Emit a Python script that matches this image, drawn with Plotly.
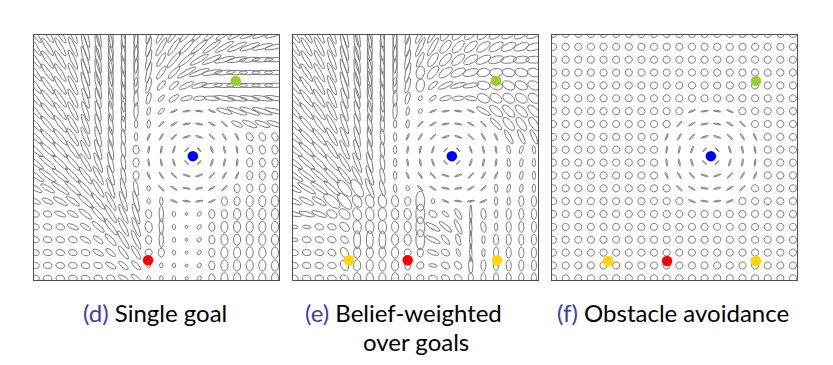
import re
import numpy as np
import plotly.graph_objects as go

# ---------------- data ----------------
# grid: 20 x 20 cells, column index left->right, row index top->bottom
GRID_COLS = list(range(20))
GRID_ROWS = list(range(20))

# each token = orientation of the major axis in degrees (0 = horizontal, 90 = vertical,
# 45 = "/", 135 = "\") followed by a glyph-shape letter
FIELD_D = [
    "125L 123L 120L 113L 105X 100X 95X 92X 88X 80L 62L 55L 50L 45L 40L 35L 30L 25L 22L 20L",
    "125L 123L 120L 113L 105X 100X 95X 92X 88X 78L 60L 55L 45L 40L 35L 30L 25L 20L 15L 12L",
    "126L 124L 121L 114L 106X 100X 95X 92X 88X 77L 58l 50L 40L 30L 25L 15L 10L 6L 4L 2L",
    "127L 125L 122L 115L 106X 100X 95X 92X 88X 76L 55l 45l 30L 20L 10L 5L 0L 0L 0L 0L",
    "128L 126L 123L 116L 107X 101X 95X 92X 88l 75l 50m 40m 25l 15l 5L 0L 0L 0L 0L 0L",
    "130L 128L 124L 117L 108L 102L 96L 92X 88l 75m 45n 35m 15m 5m 175l 170L 170L 170L 170L 170L",
    "131L 129L 125L 118L 109L 102L 96L 93L 88l 75n 40n 23d 8d 172d 157d 163l 160L 160L 162L 165L",
    "133L 131L 127L 120L 111L 104L 97L 94l 90n 85n 45d 31d 11d 169d 149d 135d 155m 155l 158l 160l",
    "136L 134L 129L 122L 113L 105L 98L 95l 90n 67d 59d 45d 18d 162d 135d 121d 113d 125e 118e 112e",
    "139L 137L 132L 125L 116L 107L 100L 96l 90e 82d 79d 72d 45i 135i 108d 101d 98d 105e 102e 100e",
    "142L 140L 136L 130L 122L 112L 104L 97l 90e 98d 101d 108d 135i 45i 72d 79d 82d 95e 95e 95e",
    "145L 143L 140L 134L 127L 118L 107L 100l 90e 113d 121d 135d 162d 18d 45d 59d 67d 90e 90e 90e",
    "150l 148l 145L 138L 132L 122L 110L 103L 100l 95t 135d 149d 169d 11d 31d 45d 90e 90e 90e 90e",
    "155m 155m 150l 145l 138L 128L 118L 110L 105L 90t 90n 157d 172d 8d 23d 90e 90e 90E 90E 90E",
    "160e 160e 158m 150m 142l 132L 122L 114L 108L 100e 90l 90t 0s 45t 90e 90e 90E 90E 90E 90E",
    "165e 165e 162e 155m 148m 138l 128L 118L 112L 100E 90l 90t 0s 45t 90e 90E 90E 90E 90E 90E",
    "167e 167e 165e 160e 152m 142m 132l 122L 115L 95e 90l 90t 0s 45t 90e 90E 90E 90E 90E 90E",
    "170e 170e 168e 165e 160e 150m 140m 128l 122l 90o 90e 90t 0s 45t 90e 90E 90E 90E 90E 90E",
    "175e 175e 172e 170e 165e 160e 150m 140m 135m 90t 90t 90t 0s 45t 90e 90E 90E 90E 90E 90E",
    "178e 178e 175e 172e 170e 165e 158e 150m 140m 90t 90t 90t 0s 45t 90e 90E 90E 90E 90E 90E",
]

FIELD_E = [
    "123L 120L 117L 112L 105X 100X 95X 92X 88X 80L 65L 60L 55G 45G 40G 40G 35G 30G 30G 25G",
    "123L 120L 117L 112L 105X 100X 95X 92X 88X 80L 65L 60L 50G 45G 40G 35G 30G 25G 20G 15G",
    "124L 121L 118L 112L 105X 100X 95X 92X 88X 78L 65l 55G 45G 40G 30G 25G 15G 10G 5G 0G",
    "126L 123L 119L 113L 106X 100X 95X 92X 88X 77L 80F 50G 35G 25G 15G 10F 5F 170F 165F 165F",
    "128L 125L 120L 114L 106X 100X 95X 92X 88l 76l 80F 40m 25l 15l 10l 170F 160F 155F 155F 155F",
    "130L 127L 122L 115L 107L 101L 96X 92X 88l 75m 60t 40n 15m 5m 170m 155F 150F 145F 145F 145F",
    "132L 129L 124L 117L 108L 102L 96L 92L 88l 80n 45t 23d 8d 172d 157d 150l 140G 135G 135G 135G",
    "134L 131L 126L 119L 110L 103L 97L 92l 90n 85n 45d 31d 11d 169d 149d 135d 135l 130G 125G 125G",
    "137L 134L 128L 121L 112L 104L 98L 93l 90n 67d 59d 45d 18d 162d 135d 121d 113d 120l 115l 115l",
    "140L 137L 131L 124L 115L 106L 99L 94l 90n 82d 79d 72d 45i 135i 108d 101d 98d 105n 70n 100n",
    "143L 140L 135L 130L 122L 112L 104L 97l 90n 98d 101d 108d 135i 45i 72d 79d 82d 95n 80n 90n",
    "147L 144L 140L 134L 127L 118L 108L 100l 90n 113d 121d 135d 162d 18d 45d 59d 67d 90n 80n 90n",
    "150l 148L 144L 138L 130B 122B 112L 105l 95n 90t 135d 149d 169d 11d 31d 45d 90n 75n 80n 90n",
    "155l 152l 150l 140B 130B 120F 105F 100F 95E 90e 90B 90t 157d 172d 8d 23d 90n 90n 90v 90v",
    "168l 165l 160l 150E 140F 110F 100F 95F 95E 100E 90B 150e 140n 120m 90T 95v 90n 90v 90v 90v",
    "175n 172n 165e 160e 140E 95F 95F 95F 95E 95E 90B 150l 140l 115l 90T 100v 90n 90v 90v 90v",
    "175n 170e 160e 160e 140e 90W 90W 90W 95E 95E 90B 155l 130m 105m 90T 90n 90v 90v 90v 90v",
    "170e 170e 170e 150e 120E 90E 90E 90E 90E 90o 90e 160m 150e 110n 90T 90n 90v 90v 90v 90v",
    "170e 170e 170e 170e 120E 90E 90E 90E 90E 90e 90o 170n 150e 130e 90l 90v 90v 90v 90v 90v",
    "170e 170e 170e 170e 150e 90E 90E 90E 90E 90e 90o 170e 150e 130e 90v 90v 90v 90v 90v 90v",
]

FIELD_F = [
    "o o o o o o o o o o o o o o o o o o o o",
    "o o o o o o o o o o o o o o o o o o o o",
    "o o o o o o o o o o o o o o o o o o o o",
    "o o o o o o o o o o o o o o o o o o o o",
    "o o o o o o o o o o o o o o o o o o o o",
    "o o o o o o o o o o o o o o o o o o o o",
    "o o o o o o o o o o o 23d 8d 172d 157d o o o o o",
    "o o o o o o o o o o 45d 31d 11d 169d 149d 135d o o o o",
    "o o o o o o o o o 67d 59d 45d 18d 162d 135d 121d 113d o o o",
    "o o o o o o o o o 82d 79d 72d 45i 135i 108d 101d 98d o o o",
    "o o o o o o o o o 98d 101d 108d 135i 45i 72d 79d 82d o o o",
    "o o o o o o o o o 113d 121d 135d 162d 18d 45d 59d 67d o o o",
    "o o o o o o o o o o 135d 149d 169d 11d 31d 45d o o o o",
    "o o o o o o o o o o o 157d 172d 8d 23d o o o o o",
    "o o o o o o o o o o o o o o o o o o o o",
    "o o o o o o o o o o o o o o o o o o o o",
    "o o o o o o o o o o o o o o o o o o o o",
    "o o o o o o o o o o o o o o o o o o o o",
    "o o o o o o o o o o o o o o o o o o o o",
    "o o o o o o o o o o o o o o o o o o o o",
]

OBSTACLE = (12.5, 9.5)
GOALS_D = [(8.95, 17.6, "red"), (15.9, 3.65, "green")]
GOALS_E = [(9.0, 17.6, "red"), (4.35, 17.6, "yellow"), (16.07, 17.6, "yellow"), (16.0, 3.65, "green")]
GOALS_F = [(9.03, 17.65, "red"), (4.35, 17.65, "yellow"), (16.07, 17.65, "yellow"), (16.07, 3.65, "green")]

CAPTION_LABELS = ["(d)", "(e)", "(f)"]
CAPTION_TEXTS = [["Single goal"], ["Belief-weighted", "over goals"], ["Obstacle avoidance"]]

# ---------------- styles ----------------
SHAPES = {  # glyph semi-axes in pixels (major, minor)
    "o": (3.6, 3.6), "s": (1.5, 1.5), "t": (2.6, 1.8), "e": (4.4, 3.1), "E": (5.6, 3.6),
    "n": (4.2, 1.7), "m": (6.0, 2.2), "l": (8.0, 2.2), "L": (10.5, 2.2), "X": (14.0, 2.2),
    "d": (3.8, 0.7), "i": (2.6, 0.6), "B": (10.0, 4.5), "F": (6.5, 4.2), "G": (8.0, 3.5),
    "v": (5.5, 2.6), "T": (9.0, 1.2), "W": (9.0, 3.5),
}
DOT_COLORS = {"red": "#ff0000", "green": "#9acd32", "yellow": "#ffd700", "blue": "#0000ff"}
PX_X, PX_Y = 12.63, 12.86  # pixels per grid step
PAGE_MARGIN = 8            # default body margin of the html page
W, H = 833 - 2 * PAGE_MARGIN, 365 - 2 * PAGE_MARGIN
PANELS_PX = [(34, 279), (293, 538), (552, 797)]
TOP_PX, BOT_PX = 35, 280
XRANGE = [-0.08, 19.32]
YRANGE = [19.13, 0.08]


def fx(px):
    return (px - PAGE_MARGIN) / W


def fy(py):
    return 1 - (py - PAGE_MARGIN) / H


def field_path(field):
    t = np.linspace(0, 2 * np.pi, 41)
    xs, ys = [], []
    for j, row in zip(GRID_ROWS, field):
        toks = row.split()
        for i, tok in zip(GRID_COLS, toks):
            m = re.match(r"(\d*)([A-Za-z])", tok)
            ang = np.radians(float(m.group(1) or 0))
            a, b = SHAPES[m.group(2)]
            dx = a * np.cos(ang) * np.cos(t) - b * np.sin(ang) * np.sin(t)
            dy = a * np.sin(ang) * np.cos(t) + b * np.cos(ang) * np.sin(t)
            xs.extend(list(i + dx / PX_X) + [None])
            ys.extend(list(j - dy / PX_Y) + [None])
    return xs, ys


fig = go.Figure()
fields = [FIELD_D, FIELD_E, FIELD_F]
goals = [GOALS_D, GOALS_E, GOALS_F]
for k in range(3):
    ax = "" if k == 0 else str(k + 1)
    xs, ys = field_path(fields[k])
    fig.add_trace(go.Scatter(x=xs, y=ys, mode="lines", line=dict(color="#7a7a7a", width=1),
                             hoverinfo="skip", showlegend=False, xaxis="x" + ax, yaxis="y" + ax))
    gx = [g[0] for g in goals[k]] + [OBSTACLE[0]]
    gy = [g[1] for g in goals[k]] + [OBSTACLE[1]]
    gc = [DOT_COLORS[g[2]] for g in goals[k]] + [DOT_COLORS["blue"]]
    fig.add_trace(go.Scatter(x=gx, y=gy, mode="markers", marker=dict(size=10.5, color=gc, line=dict(width=0)),
                             cliponaxis=False, showlegend=False, xaxis="x" + ax, yaxis="y" + ax))
    x0, x1 = PANELS_PX[k]
    axis_common = dict(showline=True, mirror=True, linecolor="#505050", linewidth=1.2,
                       showticklabels=False, ticks="", showgrid=False, zeroline=False, fixedrange=True)
    fig.update_layout(**{
        "xaxis" + ax: dict(domain=[fx(x0), fx(x1)], range=XRANGE, anchor="y" + ax, **axis_common),
        "yaxis" + ax: dict(domain=[fy(BOT_PX), fy(TOP_PX)], range=YRANGE, anchor="x" + ax, **axis_common),
    })

LABEL_COLOR = "#3c3cb0"
cap_pos = [[(155, 312)], [(403, 312), (416, 341)], [(673, 312)]]
for k in range(3):
    for n, line in enumerate(CAPTION_TEXTS[k]):
        txt = line
        if n == 0:
            txt = f"<span style='color:{LABEL_COLOR}'>{CAPTION_LABELS[k]}</span> " + line
        px, py = cap_pos[k][n]
        fig.add_annotation(x=fx(px), y=fy(py), xref="paper", yref="paper", text=txt,
                           showarrow=False, xanchor="center", yanchor="middle",
                           font=dict(family="Lato, DejaVu Sans, sans-serif", size=24, color="#000000"))

fig.update_layout(width=W, height=H, margin=dict(l=0, r=0, t=0, b=0),
                  paper_bgcolor="white", plot_bgcolor="white")
fig.write_html("out.html")
